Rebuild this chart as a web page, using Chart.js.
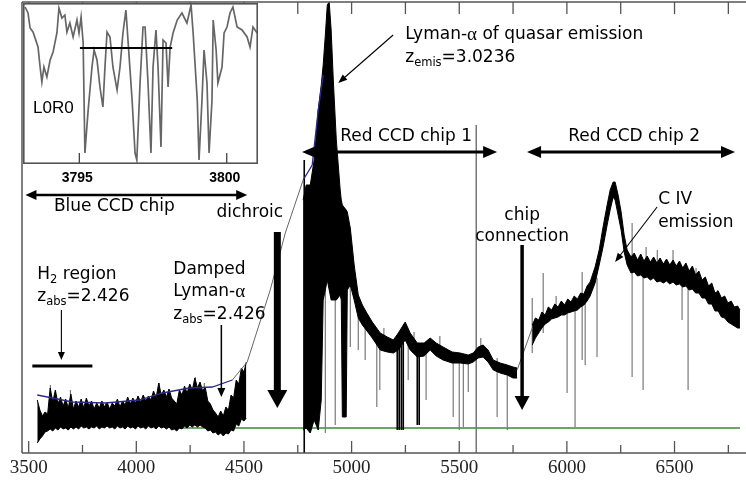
<!DOCTYPE html>
<html><head><meta charset="utf-8">
<script src="https://cdn.jsdelivr.net/npm/chart.js@4.4.1/dist/chart.umd.min.js"></script>
<style>
html,body{margin:0;padding:0;background:#fff;}
#wrap{position:relative;width:746px;height:480px;overflow:hidden;}
#main{position:absolute;left:0;top:0;}
#inset{position:absolute;left:23px;top:3px;}
</style></head><body>
<div id="wrap">
<canvas id="main" width="746" height="480"></canvas>
<canvas id="inset" width="236" height="195"></canvas>
</div>
<script>
// ---------- DATA (wavelength in Angstrom, flux in arbitrary units) ----------
const tickLabels = [3500,4000,4500,5000,5500,6000,6500];
const tickMarks = [3500,3750,4000,4250,4500,4750,5000,5250,5500,5750,6000,6250,6500,6750];

// Blue CCD chip noise band
const blueWave  = [3540,3552,3564,3576,3588,3600,3612,3624,3636,3648,3660,3672,3684,3696,3708,3720,3732,3744,3756,3768,3780,3792,3804,3816,3828,3840,3852,3864,3876,3888,3900,3912,3924,3936,3948,3960,3972,3984,3996,4008,4020,4032,4044,4056,4068,4080,4092,4104,4116,4128,4140,4152,4164,4176,4188,4200,4212,4224,4236,4248,4260,4272,4284,4296,4308,4320,4332,4344,4356,4368,4380,4392,4404,4416,4428,4440,4452,4464,4476,4488,4500,4511];
const blueUpper = [28,18,12,16,14,40,26,38,24,31, 22,29,20,34,19,27,21,29,20,30, 22,27,19,25,20,27,21,26,19,25, 22,29,21,27,23,31,24,30,25,32, 26,33,27,32,28,37,30,45,33,38, 31,39,30,27,24,38,33,42,35,44, 38,50,40,46,37,41,27,24,18,15, 11,17,12,21,18,33,30,48,44,60, 56,66];
const blueLower = [-15,-11,-8,-4,-3,-1,-3,0,-2,1, -1,0,-2,1,-1,1,-1,2,0,1, -1,1,0,2,-1,1,0,2,0,1, -1,2,0,1,-1,2,0,1,-1,2, 0,1,-1,2,0,1,-1,2,0,1, -1,1,-2,-1,-3,0,-1,2,0,3, 1,3,1,3,1,0,-3,-2,-5,-4, -7,-5,-8,-5,-6,-2,-3,4,2,9, 7,10];

// Red CCD chip 1 band (Lyman-alpha forest + emission)
const red1Wave  = [4775,4789,4808,4826,4845,4859,4868,4878,4887,4896,4905,4915,4929,4947,4952,4957,4975,4980,4994,5012,5031,5050,5068,5096,5133,5166,5194,5217,5249,5272,5305,5337,5365,5393,5425,5467,5504,5542,5565,5588,5611,5634,5658,5690,5723,5750,5769];
const red1Upper = [228,243,243,268,318,343,363,393,423,426,398,348,288,238,228,223,218,216,200,163,133,123,116,106,95,91,88,95,106,95,85,85,90,85,81,76,75,73,75,81,83,78,68,65,63,61,60];
const red1Lower = [-2,0,-5,8,-2,28,128,138,148,138,128,128,128,133,128,11,11,138,143,128,110,103,98,90,78,76,75,78,88,78,71,72,78,72,68,65,65,64,66,70,71,66,58,55,53,50,50];

// Red CCD chip 2 band (C IV emission)
const red2Wave  = [5839,5854,5869,5884,5899,5914,5929,5944,5959,5974,5989,6004,6019,6034,6049,6064,6079,6094,6108,6131,6150,6168,6187,6201,6215,6224,6238,6252,6266,6280,6298,6313,6328,6343,6358,6373,6388,6403,6418,6433,6448,6463,6478,6493,6508,6523,6538,6553,6568,6583,6598,6613,6628,6643,6658,6673,6688,6703,6718,6733,6748,6763,6778,6793,6804];
const red2Upper = [103,110,108,116,113,121,118,124,121,127, 123,129,126,132,129,135,134,142,146,161, 178,201,223,238,246,246,233,216,193,178, 171,175,168,174,167,172,166,171,165,170, 164,169,163,168,162,167,160,165,157,162, 153,157,148,151,142,145,135,137,130,132, 125,127,121,122,118];
const red2Lower = [83,90,95,100,104,106,109,110,111,113, 113,115,116,117,118,121,123,127,132,145, 163,181,203,218,231,228,213,198,176,163, 155,156,152,153,150,151,148,150,146,147, 145,147,144,146,143,144,141,142,138,139, 135,135,130,130,124,124,117,117,111,110, 106,104,102,100,100];

// continuum fits
const contWave  = [3540,3703,3856,4014,4121,4246,4353,4446];
const contFlux  = [33,26,25,28,35,40,41,48];
const contPeakWave = [4775,4817,4845,4868];
const contPeakFlux = [248,263,318,353];
const dichroicWave = [4446,4515,4622,4692,4775];
const dichroicFlux = [48,66,138,195,248];
const connectWave = [5769,5839];
const connectFlux = [58,100];

// zero level
const zeroWave = [4180,6804];
const zeroFlux = [0,0];

// absorption / noise spikes (gray)
const spikeWave = [3601,3694,4107,4274,4316,4878,4924,4994,5031,5063,5117,5131,5150,5263,5290,5346,5410,5472,5500,5519,5542,5600,5676,5723,5839,5890,5950,6001,6038,6071,6085,6140,6303,6354,6368,6420,6493,6535,6563,6600,6700];
const spikeHi   = [43,38,45,51,45,138,128,143,110,100,85,85,100,90,96,80,92,70,70,70,70,90,70,60,130,155,132,120,125,156,130,150,205,160,181,178,178,150,150,160,138];
const spikeLo   = [20,20,25,30,25,-5,3,81,78,68,21,38,80,48,80,28,75,11,-2,1,36,75,11,-2,75,95,115,35,1,68,63,71,51,38,160,155,150,108,38,140,120];
// strong black absorption lines
const blackWave = [4780,5212,5221,5231,5240,5305,5314];
const blackHi   = [268,85,85,85,85,80,80];
const blackLo   = [-25,-2,-2,-2,-2,3,3];
// night-sky line
const skyWave = [5579];
const skyHi = [303];
const skyLo = [-25];

// H2 region bar
const h2Wave = [3517,3796];
const h2Flux = [62,62];

// Inset (L0R0 H2 lines)
const insetWave = [3793.16,3793.26,3793.33,3793.43,3793.60,3793.67,3793.73,3793.80,3793.90,3794.01,3794.11,3794.24,3794.31,3794.41,3794.51,3794.58,3794.68,3794.79,3794.92,3794.99,3795.06,3795.13,3795.19,3795.30,3795.43,3795.50,3795.60,3795.70,3795.80,3795.87,3795.94,3796.04,3796.14,3796.28,3796.38,3796.48,3796.58,3796.65,3796.79,3796.89,3796.95,3797.06,3797.16,3797.23,3797.33,3797.43,3797.50,3797.60,3797.67,3797.77,3797.84,3797.94,3798.01,3798.08,3798.18,3798.32,3798.48,3798.65,3798.79,3798.86,3799.00,3799.06,3799.16,3799.23,3799.33,3799.40,3799.50,3799.54,3799.64,3799.70,3799.84,3799.91,3800.01,3800.11,3800.21,3800.35,3800.52,3800.69,3800.79,3800.89,3801.03];
const insetFlux = [157,151,136,132,117,97,82,97,87,104,112,131,156,146,149,132,141,127,144,131,147,121,11,54,97,114,104,77,57,97,132,127,97,74,97,131,154,124,64,11,4,81,137,137,81,11,97,134,97,17,124,121,77,117,131,144,151,141,159,131,64,4,64,114,81,11,64,144,114,81,97,131,137,151,157,137,134,127,117,137,131];
const insetBarWave = [3795.02,3798.15];
const insetBarFlux = [116,116];
const insetTicks = [3795,3800];

// ---------- helpers ----------
const pts = (xs, ys) => xs.map((x, i) => ({x, y: ys[i]}));
function segs(w, hi, lo) { const d = []; w.forEach((x, i) => { d.push({x, y: hi[i]}, {x, y: lo[i]}, {x, y: null}); }); return d; }
function lineDs(data, color, width, order, extra) {
  return Object.assign({data, borderColor: color, borderWidth: width, fill: false, pointRadius: 0, spanGaps: false, order}, extra || {});
}

const F = '17px "DejaVu Sans"', S = '11.5px "DejaVu Sans"', G = '19px "Liberation Serif"';

function rich(ctx, parts, x, y, align) {
  let w = 0;
  parts.forEach(p => { ctx.font = p.f; w += ctx.measureText(p.t).width; });
  let cx = align === 'center' ? x - w / 2 : x;
  ctx.textAlign = 'left'; ctx.textBaseline = 'middle';
  parts.forEach(p => { ctx.font = p.f; ctx.fillText(p.t, cx, y + (p.dy || 0)); cx += ctx.measureText(p.t).width; });
}
function seg(ctx, x1, y1, x2, y2) { ctx.beginPath(); ctx.moveTo(x1, y1); ctx.lineTo(x2, y2); ctx.stroke(); }
function head(ctx, x1, y1, x2, y2, len, hw) {
  const a = Math.atan2(y2 - y1, x2 - x1), c = Math.cos(a), s = Math.sin(a);
  const bx = x2 - c * len, by = y2 - s * len;
  ctx.beginPath(); ctx.moveTo(x2, y2);
  ctx.lineTo(bx - s * hw, by + c * hw); ctx.lineTo(bx + s * hw, by - c * hw);
  ctx.closePath(); ctx.fill();
}
function thinArrow(ctx, x1, y1, x2, y2, lw, len, hw) {
  const a = Math.atan2(y2 - y1, x2 - x1);
  ctx.lineWidth = lw; seg(ctx, x1, y1, x2 - Math.cos(a) * len * 0.8, y2 - Math.sin(a) * len * 0.8);
  head(ctx, x1, y1, x2, y2, len, hw);
}
function dblArrow(ctx, x1, x2, y, lw, len, hw) {
  ctx.lineWidth = lw; seg(ctx, x1 + len * 0.8, y, x2 - len * 0.8, y);
  head(ctx, x2, y, x1, y, len, hw); head(ctx, x1, y, x2, y, len, hw);
}
function thickArrow(ctx, x, y1, y2, sw, hw, len) {
  ctx.fillRect(x - sw / 2, y1, sw, (y2 - y1) - len + 1);
  head(ctx, x, y1, x, y2, len, hw);
}

const mainPlugin = {
  id: 'mainDecor',
  afterDatasetsDraw(chart) {
    const ctx = chart.ctx, ca = chart.chartArea;
    const X = v => chart.scales.x.getPixelForValue(v), Y = v => chart.scales.y.getPixelForValue(v);
    ctx.save();
    // frame
    ctx.strokeStyle = '#555'; ctx.lineWidth = 1.5;
    seg(ctx, ca.left, ca.top, ca.left, ca.bottom);
    seg(ctx, ca.left, ca.bottom, ca.right, ca.bottom);
    seg(ctx, ca.left, ca.top, ca.right, ca.top);
    ctx.lineWidth = 1.3;
    tickMarks.forEach(v => {
      const x = X(v), len = v % 500 === 0 ? 12 : 8;
      seg(ctx, x, ca.bottom, x, ca.bottom - len);
      seg(ctx, x, ca.top, x, ca.top + 12);
    });
    ctx.fillStyle = '#222'; ctx.font = '19px "Liberation Serif"';
    ctx.textAlign = 'center'; ctx.textBaseline = 'middle';
    tickLabels.forEach(v => ctx.fillText(String(v), X(v), ca.bottom + 15));

    // annotations
    ctx.fillStyle = '#000'; ctx.strokeStyle = '#000';
    rich(ctx, [{t: 'Lyman-', f: F}, {t: 'α', f: G}, {t: ' of quasar emission', f: F}], X(5249), Y(393));
    rich(ctx, [{t: 'z', f: F}, {t: 'emis', f: S, dy: 5}, {t: '=3.0236', f: F}], X(5249), Y(370));
    thinArrow(ctx, X(5193), Y(393), X(4938), Y(345), 1.1, 9, 3.5);

    rich(ctx, [{t: 'Red CCD chip 1', f: F}], X(4947), Y(291));
    dblArrow(ctx, X(4770), X(5676), Y(276), 3, 14, 6);
    rich(ctx, [{t: 'Red CCD chip 2', f: F}], X(6006), Y(291));
    dblArrow(ctx, X(5815), X(6781), Y(276), 3, 14, 6);

    rich(ctx, [{t: 'C IV', f: F}], X(6424), Y(228));
    rich(ctx, [{t: 'emission', f: F}], X(6424), Y(205));
    thinArrow(ctx, X(6419), Y(221), X(6224), Y(166), 1.1, 9, 3.5);

    rich(ctx, [{t: 'chip', f: F}], X(5792), Y(212), 'center');
    rich(ctx, [{t: 'connection', f: F}], X(5792), Y(191), 'center');
    thickArrow(ctx, X(5792), Y(183), Y(18), 3.5, 7.5, 14);

    rich(ctx, [{t: 'dichroic', f: F}], X(4527), Y(215), 'center');
    thickArrow(ctx, X(4655), Y(196), Y(20), 7, 10, 18);

    rich(ctx, [{t: 'Blue CCD chip', f: F}], X(3898), Y(221), 'center');
    dblArrow(ctx, X(3485), X(4515), Y(233), 2.5, 11, 5);

    rich(ctx, [{t: 'H', f: F}, {t: '2', f: S, dy: 5}, {t: ' region', f: F}], X(3540), Y(153));
    rich(ctx, [{t: 'z', f: F}, {t: 'abs', f: S, dy: 5}, {t: '=2.426', f: F}], X(3540), Y(131));
    thinArrow(ctx, X(3652), Y(118), X(3652), Y(68), 1.1, 8, 3.5);

    rich(ctx, [{t: 'Damped', f: F}], X(4172), Y(158));
    rich(ctx, [{t: 'Lyman-', f: F}, {t: 'α', f: G}], X(4172), Y(136));
    rich(ctx, [{t: 'z', f: F}, {t: 'abs', f: S, dy: 5}, {t: '=2.426', f: F}], X(4172), Y(113));
    thinArrow(ctx, X(4395), Y(103), X(4395), Y(31), 1.5, 9, 4);
    ctx.restore();
  }
};

new Chart(document.getElementById('main'), {
  type: 'line',
  data: {datasets: [
    lineDs(pts(contWave, contFlux), '#2b2b8c', 1.3, 1),
    lineDs(pts(contPeakWave, contPeakFlux), '#2b2b8c', 1.3, 1),
    lineDs(pts(dichroicWave, dichroicFlux), '#666', 1, 2),
    lineDs(pts(connectWave, connectFlux), '#666', 1, 2),
    lineDs(pts(h2Wave, h2Flux), '#000', 3, 1),
    lineDs(pts(blueWave, blueUpper), '#000', 1, 5, {fill: '+1', backgroundColor: '#000'}),
    lineDs(pts(blueWave, blueLower), '#000', 1, 5),
    lineDs(pts(red1Wave, red1Upper), '#000', 1, 5, {fill: '+1', backgroundColor: '#000'}),
    lineDs(pts(red1Wave, red1Lower), '#000', 1, 5),
    lineDs(pts(red2Wave, red2Upper), '#000', 1, 5, {fill: '+1', backgroundColor: '#000'}),
    lineDs(pts(red2Wave, red2Lower), '#000', 1, 5),
    lineDs(segs(blackWave, blackHi, blackLo), '#000', 1.6, 4),
    lineDs(segs(spikeWave, spikeHi, spikeLo), '#7a7a7a', 1.2, 6),
    lineDs(segs(skyWave, skyHi, skyLo), '#777', 1.5, 7),
    lineDs(pts(zeroWave, zeroFlux), '#3a8a3a', 1.5, 9)
  ]},
  options: {
    responsive: false, animation: false, devicePixelRatio: 1, events: [],
    layout: {padding: {left: 22, top: 2, right: 0, bottom: 27}},
    scales: {
      x: {type: 'linear', min: 3469, max: 6832, display: false},
      y: {type: 'linear', min: -25, max: 426, display: false}
    },
    plugins: {legend: {display: false}, tooltip: {enabled: false}},
    elements: {point: {radius: 0}, line: {tension: 0}}
  },
  plugins: [mainPlugin]
});

const insetPlugin = {
  id: 'insetDecor',
  beforeDatasetsDraw(chart) {
    const ctx = chart.ctx, ca = chart.chartArea;
    ctx.save(); ctx.fillStyle = '#fff';
    ctx.fillRect(ca.left, ca.top, ca.right - ca.left, ca.bottom - ca.top);
    ctx.restore();
  },
  afterDatasetsDraw(chart) {
    const ctx = chart.ctx, ca = chart.chartArea;
    const X = v => chart.scales.x.getPixelForValue(v), Y = v => chart.scales.y.getPixelForValue(v);
    ctx.save();
    ctx.strokeStyle = '#333'; ctx.lineWidth = 1.2;
    insetTicks.forEach(v => seg(ctx, X(v), ca.bottom, X(v), ca.bottom - 11));
    ctx.strokeStyle = '#555'; ctx.lineWidth = 1.6;
    ctx.strokeRect(ca.left + 0.8, ca.top + 0.8, ca.right - ca.left - 1.6, ca.bottom - ca.top - 1.6);
    ctx.fillStyle = '#000'; ctx.textBaseline = 'middle';
    ctx.font = '17px "Liberation Sans"'; ctx.textAlign = 'left';
    ctx.fillText('L0R0', X(3793.43), Y(56));
    ctx.font = 'bold 14px "Liberation Sans"'; ctx.textAlign = 'center';
    insetTicks.forEach(v => ctx.fillText(String(v), X(v) - 2, ca.bottom + 14));
    ctx.restore();
  }
};

new Chart(document.getElementById('inset'), {
  type: 'line',
  data: {datasets: [
    lineDs(pts(insetBarWave, insetBarFlux), '#000', 2, 1),
    lineDs(pts(insetWave, insetFlux), '#666', 1.7, 2)
  ]},
  options: {
    responsive: false, animation: false, devicePixelRatio: 1, events: [],
    layout: {padding: {left: 0, top: 0, right: 1, bottom: 34}},
    scales: {
      x: {type: 'linear', min: 3793.09, max: 3801.06, display: false},
      y: {type: 'linear', min: 0, max: 161, display: false}
    },
    plugins: {legend: {display: false}, tooltip: {enabled: false}},
    elements: {point: {radius: 0}, line: {tension: 0}}
  },
  plugins: [insetPlugin]
});
</script>
</body></html>
